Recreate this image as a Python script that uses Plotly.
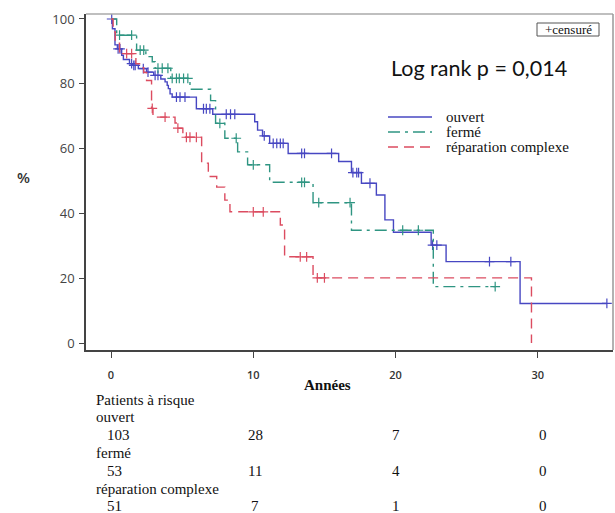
import plotly.graph_objects as go

# ---------------- data ----------------
# Kaplan-Meier steps: time (years) -> survival (%) after each step; last point = end of follow-up
ouvert_t = [0, 0.1, 0.28, 0.45, 0.75, 0.87, 1.3, 1.5, 1.92, 2.5, 3.0, 3.5, 3.8, 3.95, 4.03, 4.15, 4.3,
            6.0, 7.15, 10.1, 10.3, 10.65, 11.15, 12.45, 16.0, 16.9, 17.6, 18.65, 19.25, 19.85,
            22.5, 23.55, 28.75, 34.85]
ouvert_s = [100, 97, 92, 90.8, 88.8, 87.5, 86.2, 85.7, 84.7, 83.6, 82.6, 81.5, 80.6, 79.5, 78.5, 76.9, 75.9,
            72.3, 70.6, 68.3, 65.7, 63.9, 61.6, 58.5, 56, 52.6, 49.3, 45.7, 38, 34.2,
            30.2, 25.1, 12.2, 12.2]
ouvert_cens = [0.05, 0.5, 0.63, 1.45, 1.6, 1.7, 2.27, 2.6, 3.1, 3.3, 4.6, 4.85, 5.2, 6.5, 6.7, 6.95,
               8.1, 8.4, 8.7, 10.77, 11.4, 11.65, 11.9, 12.1, 13.4, 13.6, 15.5, 17.0, 17.27, 17.4,
               18.2, 22.6, 22.9, 26.6, 28.1, 34.85]

ferme_t = [0, 0.4, 1.8, 2.45, 2.9, 3.1, 4.2, 5.55, 7.0, 7.35, 8.0, 8.9, 9.6, 11.15, 14.2, 16.9, 22.65, 27.0]
ferme_s = [100, 95, 90.4, 88.4, 86.8, 84.8, 81.7, 78.3, 74.8, 67.8, 63.2, 59, 55, 49.6, 43.3, 34.8, 17.4, 17.4]
ferme_cens = [0.6, 1.45, 2.05, 2.3, 3.3, 3.6, 4.0, 4.3, 4.6, 4.8, 5.1, 5.4, 7.65, 8.8, 10.0,
              13.4, 13.6, 14.6, 16.8, 20.5, 21.6, 27.0]

repar_t = [0, 0.15, 0.3, 0.6, 1.75, 2.1, 2.3, 2.5, 2.85, 2.95, 4.5, 4.65, 5.05, 6.37, 6.84, 7.43, 8.0, 8.36,
           11.9, 12.2, 14.2, 29.55, 29.55]
repar_s = [100, 96, 92.5, 89.3, 86.2, 85, 83.5, 81, 72.4, 69.7, 67.9, 66.3, 63.5, 55.5, 51.4, 48.1, 44.1, 40.5,
           36.4, 26.6, 20.1, 0, 0]
repar_cens = [1.1, 1.45, 2.9, 3.8, 4.7, 5.3, 5.55, 6.0, 10.0, 10.7, 13.3, 13.75, 14.5, 15.0]

groups = ["ouvert", "fermé", "réparation complexe"]
at_risk_times = [0, 10, 20, 30]
at_risk = {
    "ouvert": [103, 28, 7, 0],
    "fermé": [53, 11, 4, 0],
    "réparation complexe": [51, 7, 1, 0],
}
x_ticks = [0, 10, 20, 30]
y_ticks = [0, 20, 40, 60, 80, 100]

# ---------------- styles ----------------
BLUE = "#4747c2"
GREEN = "#2f9582"
RED = "#dc4c60"
SERIF = "Liberation Serif"

W, H = 615, 513
L, R, T, B = 86, 613, 14, 350  # plot area pixel box


def px_x(px):
    return (px - L) / (R - L)


def px_y(py):
    return (B - py) / (B - T)


def step_value(ts, ss, t):
    v = ss[0]
    for ti, si in zip(ts, ss):
        if ti <= t:
            v = si
        else:
            break
    return v


fig = go.Figure()

GREEN_DASH = "12px,5px,3px,5px"
RED_DASH = "10px,6px"
series = [
    (ouvert_t, ouvert_s, ouvert_cens, BLUE, "solid"),
    (ferme_t, ferme_s, ferme_cens, GREEN, GREEN_DASH),
    (repar_t, repar_s, repar_cens, RED, RED_DASH),
]

for ts, ss, cens, col, dash in series:
    fig.add_trace(go.Scatter(
        x=ts, y=ss, mode="lines", line=dict(color=col, width=1.4, dash=dash, shape="hv"),
        showlegend=False, hoverinfo="skip"))
    fig.add_trace(go.Scatter(
        x=cens, y=[step_value(ts, ss, c) for c in cens], mode="markers",
        marker=dict(symbol="cross-thin", size=7, line=dict(color=col, width=1.2)),
        showlegend=False, hoverinfo="skip"))

fig.update_layout(
    width=W, height=H,
    margin=dict(l=L, r=W - R, t=T, b=H - B, autoexpand=False),
    paper_bgcolor="white", plot_bgcolor="white",
    xaxis=dict(range=[-1.757, 35.28], tickvals=x_ticks, showgrid=False, zeroline=False,
               showline=True, linecolor="#444", linewidth=1.5, ticks="outside", ticklen=6,
               tickcolor="#444", tickwidth=1.3, ticklabelstandoff=8, automargin=False,
               tickfont=dict(family="Open Sans", size=11, color="#333", weight=600)),
    yaxis=dict(range=[-2.16, 101.54], tickvals=y_ticks, showgrid=False, zeroline=False,
               showline=True, linecolor="#444", linewidth=1.5, ticks="outside", ticklen=5,
               tickcolor="#444", tickwidth=1.3, automargin=False, ticklabelstandoff=2,
               tickfont=dict(family="Open Sans", size=13, color="#444")),
)

shapes = [
    # top and right frame
    dict(type="line", xref="paper", yref="paper", x0=0, x1=1, y0=1, y1=1,
         line=dict(color="#aaaaaa", width=1.5)),
    dict(type="line", xref="paper", yref="paper", x0=1, x1=1, y0=0, y1=1,
         line=dict(color="#999999", width=1.5)),
    # censure box
    dict(type="rect", xref="paper", yref="paper", x0=px_x(537), x1=px_x(599), y0=px_y(36), y1=px_y(23),
         line=dict(color="#555", width=1), fillcolor="white"),
]
# legend lines
leg_y = [117, 132, 147]
for yy, col, dash in zip(leg_y, [BLUE, GREEN, RED], ["solid", GREEN_DASH, RED_DASH]):
    shapes.append(dict(type="line", xref="paper", yref="paper", x0=px_x(388), x1=px_x(432),
                       y0=px_y(yy), y1=px_y(yy), line=dict(color=col, width=1.4, dash=dash)))


def txt(text, px, py, size, family=SERIF, anchor="left", color="#111", weight=None, xref="paper", xval=None):
    f = dict(family=family, size=size, color=color)
    if weight:
        f["weight"] = weight
    return dict(text=text, x=(px_x(px) if xval is None else xval), y=px_y(py), xref=xref, yref="paper",
                xanchor=anchor, yanchor="middle", showarrow=False, font=f)


ann = []
ann.append(txt("+censuré", 568, 29.5, 13, anchor="center"))
ann.append(txt("Log rank p = 0,014", 389, 68, 21.5, family="Lato"))
for yy, g in zip(leg_y, groups):
    ann.append(txt(g, 444, yy, 15))
ann.append(txt("%", 23, 177, 15, family="Open Sans", anchor="center", color="#333", weight=600))
ann.append(txt("<b>Années</b>", 327, 385, 15, anchor="center"))
ann.append(txt("Patients à risque", 94, 400, 15))

row_label_y = [417, 453, 489]
row_num_y = [435, 471, 506]
num_x = [None, 10.15, 20.05, 30.35]
for g, ly, ny in zip(groups, row_label_y, row_num_y):
    ann.append(txt(g, 94, ly, 15))
    for i, (tt, n) in enumerate(zip(at_risk_times, at_risk[g])):
        if i == 0:
            ann.append(txt(str(n), 0, ny, 15, xref="x", xval=tt - 0.4))
        else:
            ann.append(txt(str(n), 0, ny, 15, anchor="center", xref="x", xval=num_x[i]))

fig.update_layout(shapes=shapes, annotations=ann)
fig.write_html("out.html")
